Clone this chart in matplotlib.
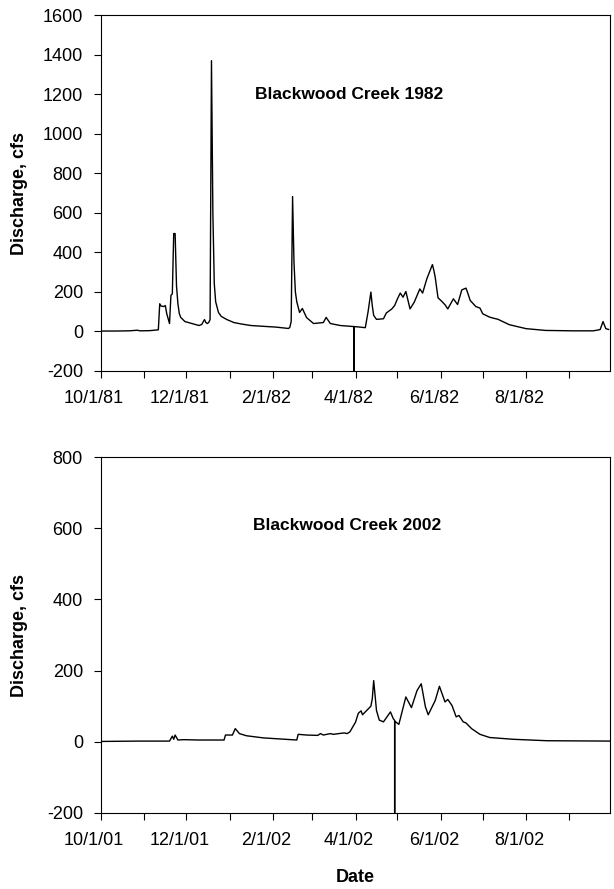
import numpy as np
import matplotlib
matplotlib.use("Agg")
from matplotlib import pyplot as plt
import matplotlib.dates as mdates
from matplotlib.ticker import FuncFormatter
from matplotlib.transforms import ScaledTranslation

# day offsets from 10/1 of each water year, discharge in cfs
# -9999 is the missing-data value that draws the spike down
days_1982 = [0, 10, 20, 26, 28, 35, 41, 42, 43, 45, 46, 47, 49, 50, 51, 52, 53,
             54, 55, 56, 57, 60, 65, 70, 72, 74, 75, 76, 77, 78, 79, 80, 81, 82,
             84, 86, 88, 90, 95, 100, 107, 118, 125, 134, 135, 136, 137, 138,
             139, 140, 142, 144, 147, 152, 159, 161, 164, 171, 180, 181, 181,
             181, 182, 185, 189, 191, 193, 194, 195, 197, 202, 204, 208, 210,
             212, 214, 216, 218, 221, 224, 228, 230, 233, 236, 237, 238, 239,
             241, 243, 246, 248, 252, 255, 258, 261, 262, 264, 268, 271, 273,
             278, 284, 292, 304, 318, 338, 352, 356, 357, 359, 361, 363]
flow_1982 = [2, 2, 3, 6, 3, 4, 8, 140, 128, 126, 131, 90, 40, 182, 190, 495, 495,
             230, 140, 90, 71, 50, 40, 30, 35, 60, 45, 40, 45, 60, 1369, 600, 242,
             150, 96, 76, 68, 60, 45, 38, 30, 25, 22, 15, 20, 50, 682, 350, 200,
             150, 96, 116, 70, 40, 45, 71, 40, 30, 25, 25, -9999, 24, 24, 22, 19,
             100, 199, 130, 81, 61, 64, 93, 114, 131, 165, 194, 173, 202, 114,
             148, 215, 194, 266, 320, 338, 310, 274, 170, 157, 135, 114, 165,
             136, 210, 219, 200, 157, 126, 118, 89, 72, 61, 34, 14, 5, 3, 3, 8,
             10, 50, 14, 10]

days_2002 = [0, 27, 49, 51, 52, 53, 55, 59, 70, 88, 89, 94, 96, 99, 104, 116, 140,
             141, 147, 155, 157, 159, 164, 166, 174, 176, 178, 182, 184, 186,
             187, 190, 193, 194, 195, 197, 199, 202, 207, 209, 210, 210, 210,
             211, 213, 218, 222, 226, 229, 232, 234, 239, 242, 246, 248, 251,
             254, 256, 259, 261, 265, 271, 278, 295, 319, 364]
flow_2002 = [1, 2, 2, 16, 7, 19, 5, 6, 5, 5, 19, 19, 37, 23, 17, 11, 5, 21, 19,
             18, 23, 19, 23, 21, 25, 23, 28, 55, 80, 87, 76, 88, 100, 121, 172,
             88, 61, 56, 84, 65, 60, -9999, 58, 55, 49, 126, 96, 144, 163, 98,
             76, 116, 156, 112, 119, 102, 70, 74, 56, 53, 37, 21, 12, 7, 3, 2]

titles = ["Blackwood Creek 1982", "Blackwood Creek 2002"]
starts = ["1981-10-01", "2001-10-01"]
ylims = [(-200, 1600), (-200, 800)]
ysteps = [200, 200]

plt.rcParams['font.family'] = ['Liberation Sans', 'DejaVu Sans']
plt.rcParams['font.size'] = 13
plt.rcParams['axes.unicode_minus'] = False

fig = plt.figure(figsize=(6.14, 8.89), dpi=100)
ax1 = fig.add_axes([0.1645, 0.5827, 0.829, 0.4004])
ax2 = fig.add_axes([0.1645, 0.0855, 0.829, 0.4004])
text_pos = [(0.3026, 0.778), (0.2986, 0.809)]


def date_label(x, pos=None):
    d = mdates.num2date(x)
    return f"{d.month}/{d.day}/{d:%y}"


for ax, days, flow, title, start, ylim, step, tp in zip(
        [ax1, ax2], [days_1982, days_2002], [flow_1982, flow_2002],
        titles, starts, ylims, ysteps, text_pos):
    t0 = np.datetime64(start)
    dates = t0 + np.array(days).astype('timedelta64[D]')
    ax.plot(dates, flow, color='black', lw=1.0)
    ax.set_xlim(t0, t0 + np.timedelta64(364, 'D'))
    ax.set_ylim(*ylim)
    ax.set_yticks(np.arange(ylim[0], ylim[1] + 1, step))
    ax.xaxis.set_major_locator(mdates.MonthLocator(bymonth=[10, 12, 2, 4, 6, 8]))
    ax.xaxis.set_minor_locator(mdates.MonthLocator())
    ax.xaxis.set_major_formatter(FuncFormatter(date_label))
    ax.tick_params(which='both', direction='out', length=5, width=0.8)
    ax.tick_params(axis='x', pad=9)
    ax.tick_params(axis='y', pad=8)
    ax.set_ylabel("Discharge, cfs", fontweight='bold')
    ax.yaxis.set_label_coords(-0.143, 0.5)
    ax.text(tp[0], tp[1], title, transform=ax.transAxes, ha='left',
            va='center', fontweight='bold', fontsize=12.5)
    for sp in ax.spines.values():
        sp.set_linewidth(0.8)
    off = ScaledTranslation(-7 / 100, 0, fig.dpi_scale_trans)
    for lab in ax.get_xticklabels():
        lab.set_transform(lab.get_transform() + off)

ax2.set_xlabel("Date", fontweight='bold', labelpad=14)

plt.savefig("out.png", dpi=100)
